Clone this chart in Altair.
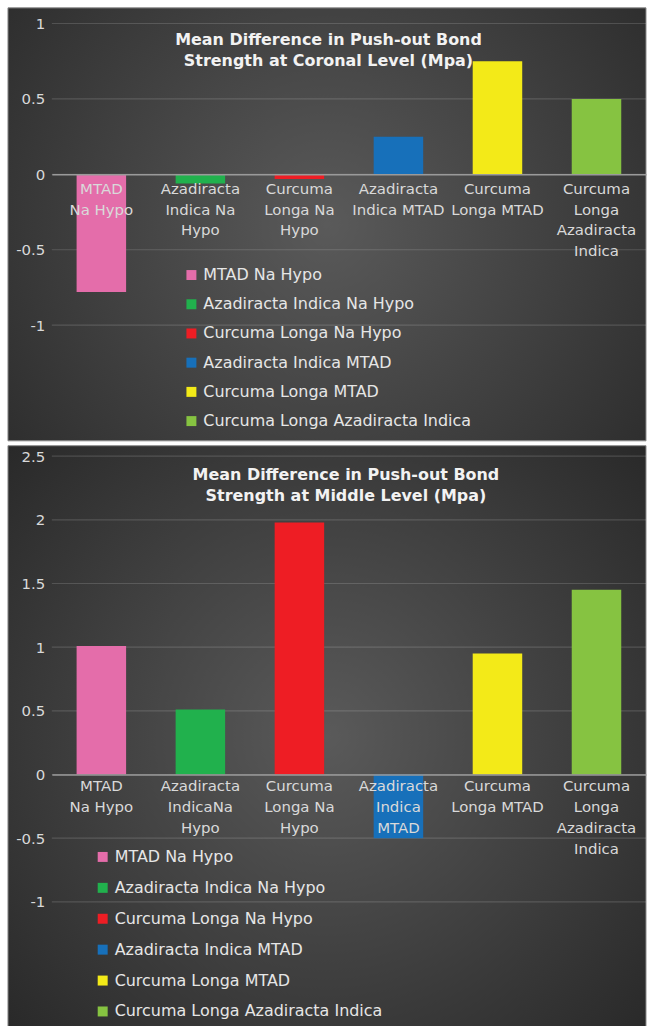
import altair as alt
import pandas as pd

# Treatment groups, shared by both panels
names = [
    "MTAD Na Hypo",
    "Azadiracta Indica Na Hypo",
    "Curcuma Longa Na Hypo",
    "Azadiracta Indica MTAD",
    "Curcuma Longa MTAD",
    "Curcuma Longa Azadiracta Indica",
]
colors = ["#E46DAA", "#21B14D", "#EE1D24", "#1770BA", "#F3EA18", "#86C341"]

# Mean differences (MPa)
coronal_values = [-0.78, -0.06, -0.03, 0.25, 0.75, 0.5]
middle_values = [1.01, 0.51, 1.98, -0.5, 0.95, 1.45]

# Wrapped category labels
coronal_labels = [
    "MTAD\nNa Hypo",
    "Azadiracta\nIndica Na\nHypo",
    "Curcuma\nLonga Na\nHypo",
    "Azadiracta\nIndica MTAD",
    "Curcuma\nLonga MTAD",
    "Curcuma\nLonga\nAzadiracta\nIndica",
]
middle_labels = [
    "MTAD\nNa Hypo",
    "Azadiracta\nIndicaNa\nHypo",
    "Curcuma\nLonga Na\nHypo",
    "Azadiracta\nIndica\nMTAD",
    "Curcuma\nLonga MTAD",
    "Curcuma\nLonga\nAzadiracta\nIndica",
]

coronal_ticks = [-1, -0.5, 0, 0.5, 1]
middle_ticks = [-1, -0.5, 0, 0.5, 1, 1.5, 2, 2.5]

coronal_title = ["Mean Difference in Push-out Bond", "Strength at Coronal Level (Mpa)"]
middle_title = ["Mean Difference in Push-out Bond", "Strength at Middle Level (Mpa)"]

WIDTH = 596
LEFT = 44
FONT = "DejaVu Sans"


def panel(values, labels, ticks, domain, height, title_lines, title_dx, title_dy,
          bg_top, bg_bottom, legend_x, legend_y, row_pad, label_pad):
    df = pd.DataFrame({"name": names, "label": labels, "value": values})
    grid = pd.DataFrame({"t": ticks})

    y_scale = alt.Scale(domain=domain, nice=False, zero=False)
    y_axis = alt.Axis(
        title=None, values=ticks, grid=False, ticks=False, domain=False,
        labelExpr="toString(datum.value)", labelFontSize=15, labelColor="#d9d9d9",
        labelPadding=7, minExtent=LEFT, maxExtent=LEFT, zindex=1,
    )
    # move the category axis up to the zero line
    zero_offset = -height * (0 - domain[0]) / (domain[1] - domain[0])

    background = alt.Chart(pd.DataFrame({"bg": [0]})).mark_rect(
        color=alt.Gradient(
            gradient="radial",
            stops=[
                alt.GradientStop(color="#5a5a5a", offset=0),
                alt.GradientStop(color="#262626", offset=1),
            ],
            x1=0.5, y1=0.5, r1=0, x2=0.5, y2=0.5, r2=0.72,
        ),
        stroke="#8a8a8a",
        strokeWidth=1,
    ).encode(
        x=alt.value(-LEFT), x2=alt.value(WIDTH),
        y=alt.value(bg_top), y2=alt.value(bg_bottom),
    )

    gridlines = alt.Chart(grid).mark_rule(
        color="#ffffff", opacity=0.15, strokeWidth=1.2
    ).encode(
        y=alt.Y("t:Q", scale=y_scale, axis=y_axis),
        x=alt.value(0), x2=alt.value(WIDTH),
    )

    bars = alt.Chart(df).mark_bar().encode(
        x=alt.X(
            "label:N", sort=None,
            scale=alt.Scale(paddingInner=0.5, paddingOuter=0.25),
            axis=alt.Axis(
                title=None, labelAngle=0, labelFontSize=15, labelColor="#d9d9d9",
                labelLineHeight=21, labelExpr="split(datum.label, '\\n')",
                ticks=False, domainColor="#9a9a9a", domainWidth=1.5,
                offset=zero_offset, labelPadding=label_pad, zindex=1,
                labelOverlap=False, labelLimit=300,
            ),
        ),
        y=alt.Y("value:Q", scale=y_scale, axis=y_axis),
        color=alt.Color(
            "name:N", sort=names,
            scale=alt.Scale(domain=names, range=colors),
            legend=alt.Legend(
                orient="none", legendX=legend_x, legendY=legend_y, title=None,
                direction="vertical", symbolType="square", symbolSize=100,
                symbolStrokeWidth=0, symbolOpacity=1, labelFontSize=16,
                labelColor="#e6e6e6", rowPadding=row_pad, labelOffset=4,
                padding=0, zindex=1, labelLimit=400,
            ),
        ),
    )

    return alt.layer(background, gridlines, bars).properties(
        width=WIDTH,
        height=height,
        title=alt.TitleParams(
            text=title_lines, anchor="middle", frame="group", orient="top",
            fontSize=16, fontWeight="bold", color="#f2f2f2", lineHeight=21,
            baseline="top", offset=0, dx=title_dx, dy=title_dy, zindex=1,
        ),
    )


coronal = panel(
    coronal_values, coronal_labels, coronal_ticks, [-1, 1], 302.6, coronal_title,
    title_dx=-20.5, title_dy=62.1, bg_top=-15.7, bg_bottom=418.6,
    legend_x=132, legend_y=244.3, row_pad=13.3, label_pad=6.8,
)
middle = panel(
    middle_values, middle_labels, middle_ticks, [-1, 2.5], 447, middle_title,
    title_dx=-3, title_dy=58.7, bg_top=-10.5, bg_bottom=573.2,
    legend_x=43, legend_y=394, row_pad=15, label_pad=3.9,
)

chart = (
    alt.vconcat(coronal, middle, spacing=3)
    .resolve_scale(x="independent", y="independent", color="independent")
    .resolve_legend(color="independent")
    .properties(padding={"left": 7, "top": 5, "right": 0, "bottom": 0}, background="white")
    .configure(font=FONT)
    .configure_view(stroke=None)
)

chart.save("out.html", embed_options={"renderer": "svg", "actions": False})
